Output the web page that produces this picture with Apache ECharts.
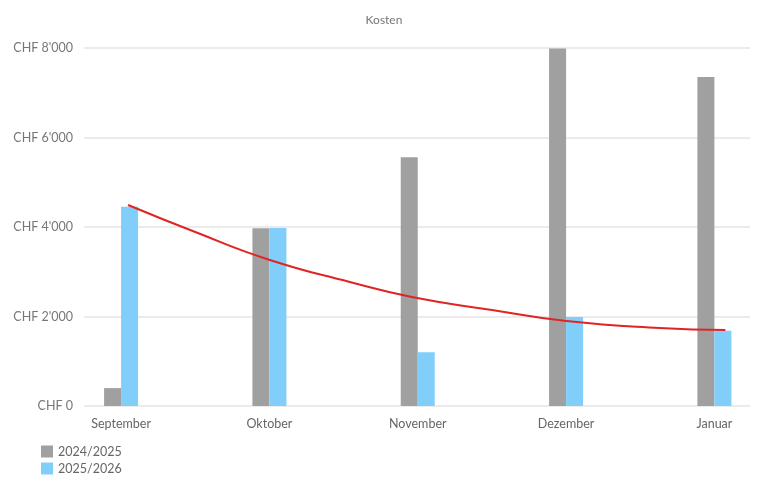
<!DOCTYPE html>
<html>
<head>
<meta charset="utf-8">
<script src="https://cdn.jsdelivr.net/npm/echarts@6/dist/echarts.min.js"></script>
<style>html,body{margin:0;padding:0;background:#fff}#c{width:768px;height:491px}</style>
</head>
<body>
<div id="c"></div>
<script>
const categories = ['September', 'Oktober', 'November', 'Dezember', 'Januar'];
const series2425 = [400, 3970, 5560, 7990, 7350];
const series2526 = [4450, 3980, 1200, 1990, 1680];
const trendX = [0.047, 0.5, 1.003, 1.542, 1.96, 2.5, 3.003, 3.63, 4.074];
const trendY = [4492, 3888, 3263, 2771, 2436, 2145, 1899, 1743, 1698];
const yTicks = [0, 2000, 4000, 6000, 8000];

const FONT = 'Lato, "Noto Sans", sans-serif';
function fmtCHF(v) {
  return 'CHF ' + String(Math.round(v)).replace(/\B(?=(\d{3})+(?!\d))/g, "'");
}
const chart = echarts.init(document.getElementById('c'));
chart.setOption({
  animation: false,
  backgroundColor: '#fff',
  textStyle: { fontFamily: FONT },
  title: {
    text: 'Kosten', left: 'center', top: 9,
    textStyle: { fontSize: 12, fontWeight: 'normal', color: '#777', fontFamily: FONT }
  },
  legend: {
    orient: 'vertical', left: 36, top: 440, itemWidth: 12, itemHeight: 12, itemGap: 4,
    icon: 'rect',
    data: ['2024/2025', '2025/2026'],
    textStyle: { fontSize: 12.5, color: '#666', fontFamily: FONT }
  },
  grid: { left: 84, right: 18, top: 48, bottom: 85, containLabel: false },
  xAxis: {
    type: 'value', min: -0.25, max: 4.24,
    axisLine: { show: false }, axisTick: { show: false }, splitLine: { show: false },
    axisLabel: {
      customValues: categories.map((c, i) => i),
      formatter: v => categories[Math.round(v)] || '',
      color: '#666', fontSize: 12.5, margin: 11, fontFamily: FONT
    }
  },
  yAxis: {
    type: 'value', min: yTicks[0], max: yTicks[yTicks.length - 1], interval: 2000,
    axisLine: { show: false }, axisTick: { show: false },
    splitLine: { lineStyle: { color: '#e4e4e4', width: 1.5 } },
    axisLabel: { formatter: fmtCHF, color: '#777', fontSize: 12.5, margin: 11, fontFamily: FONT }
  },
  series: [
    {
      name: '2024/2025', type: 'bar', barWidth: 17, barGap: '0%',
      itemStyle: { color: '#a0a0a0' },
      data: series2425.map((v, i) => [i, v])
    },
    {
      name: '2025/2026', type: 'bar', barWidth: 17, barGap: '0%',
      itemStyle: { color: '#81cefa' },
      data: series2526.map((v, i) => [i, v])
    },
    {
      name: 'Trend', type: 'line', smooth: true, symbol: 'none',
      lineStyle: { color: '#e02424', width: 2 },
      data: trendX.map((x, i) => [x, trendY[i]]),
      z: 5
    }
  ]
});
</script>
</body>
</html>
